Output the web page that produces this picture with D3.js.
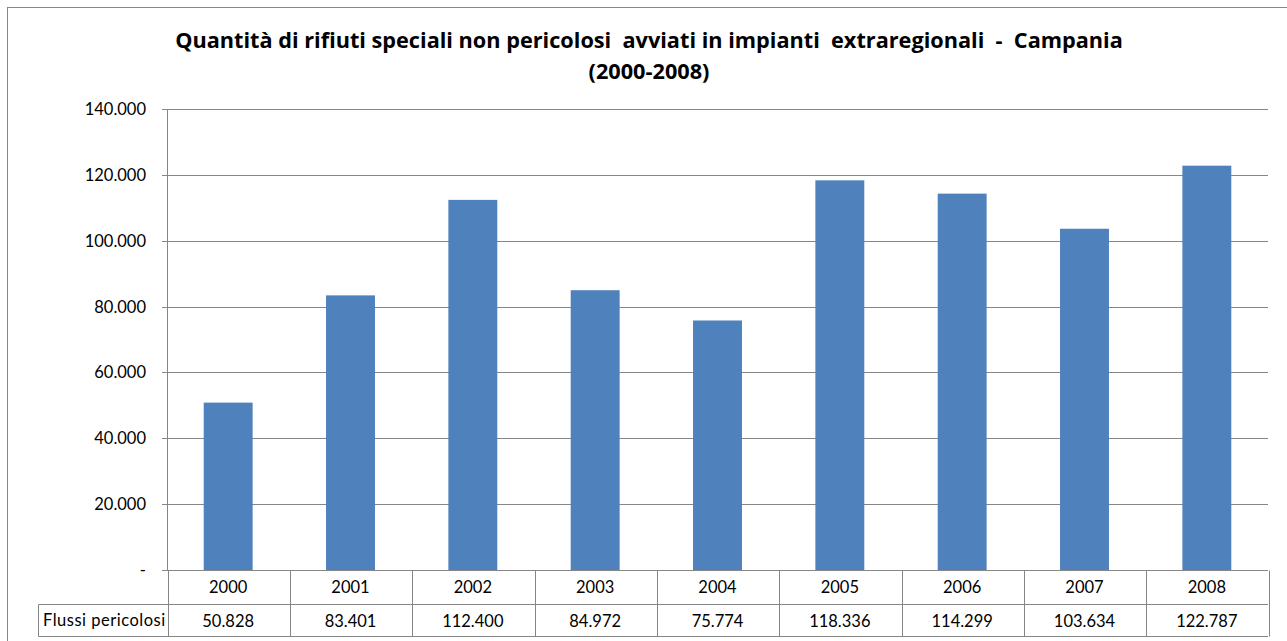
<!DOCTYPE html>
<html>
<head>
<meta charset="utf-8">
<script src="https://cdn.jsdelivr.net/npm/d3@7"></script>
<style>
  body { margin: 0; background: #fff; }
  text { font-family: Lato, "Open Sans", sans-serif; fill: #000; }
  .title { font-family: "Open Sans", Lato, sans-serif; }
</style>
</head>
<body>
<svg id="chart" width="1287" height="641"></svg>
<script>
const years = ["2000", "2001", "2002", "2003", "2004", "2005", "2006", "2007", "2008"];
const flussi = [50828, 83401, 112400, 84972, 75774, 118336, 114299, 103634, 122787];
const yTicks = [0, 20000, 40000, 60000, 80000, 100000, 120000, 140000];
const seriesName = "Flussi pericolosi";
const titleLines = ["Quantità di rifiuti speciali non pericolosi  avviati in impianti  extraregionali  -  Campania", "(2000-2008)"];

const svg = d3.select("#chart");
const margin = { left: 167, right: 19, top: 109, bottom: 71 };
const width = 1287, height = 641;
const labelSize = 16.5;

const fmt = function(v) {
  if (v === 0) return "-";
  return d3.format(",")(v).replace(/,/g, ".");
};

// chart area border
svg.append("rect")
  .attr("x", 7.5).attr("y", 7.5)
  .attr("width", width + 10).attr("height", height + 10)
  .attr("fill", "none")
  .attr("stroke", "#888")
  .attr("stroke-width", 1);

let xScale = d3.scaleBand()
  .domain(years)
  .range([margin.left, width - margin.right])
  .paddingInner(0.6)
  .paddingOuter(0.3);

let yScale = d3.scaleLinear()
  .domain([0, 140000])
  .range([height - margin.bottom, margin.top]);

// gridlines + y labels
let yAxis = svg.append("g");
yAxis.selectAll("line")
  .data(yTicks)
  .enter()
  .append("line")
  .attr("x1", margin.left - 5)
  .attr("x2", width - margin.right)
  .attr("y1", function(d) { return Math.round(yScale(d)) + 0.5; })
  .attr("y2", function(d) { return Math.round(yScale(d)) + 0.5; })
  .attr("stroke", "#868686")
  .attr("stroke-width", 1);

yAxis.selectAll("text")
  .data(yTicks)
  .enter()
  .append("text")
  .attr("x", 146)
  .attr("y", function(d) { return yScale(d) + 6; })
  .attr("text-anchor", "end")
  .attr("font-size", labelSize)
  .text(fmt);

// bars
svg.append("g")
  .selectAll("rect")
  .data(flussi)
  .enter()
  .append("rect")
  .attr("x", function(d, i) { return xScale(years[i]); })
  .attr("width", xScale.bandwidth())
  .attr("y", function(d) { return yScale(d); })
  .attr("height", function(d) { return yScale(0) - yScale(d); })
  .attr("fill", "#4F81BD");

// y axis line
svg.append("line")
  .attr("x1", margin.left + 0.5).attr("x2", margin.left + 0.5)
  .attr("y1", margin.top).attr("y2", yScale(0))
  .attr("stroke", "#868686");

// data table
const row1Top = Math.round(yScale(0)) + 0.5;
const row1Bot = 604.5;
const row2Bot = 636.5;
const step = xScale.step();
const colX = function(i) { return margin.left + 0.5 + i * step; };
let table = svg.append("g").attr("stroke", "#868686").attr("stroke-width", 1);

table.append("line").attr("x1", margin.left + 0.5).attr("x2", width - margin.right).attr("y1", row1Top).attr("y2", row1Top);
table.append("line").attr("x1", 38.5).attr("x2", width - margin.right).attr("y1", row1Bot).attr("y2", row1Bot);
table.append("line").attr("x1", 38.5).attr("x2", width - margin.right).attr("y1", row2Bot).attr("y2", row2Bot);
table.append("line").attr("x1", 38.5).attr("x2", 38.5).attr("y1", row1Bot).attr("y2", row2Bot);
table.selectAll("line.col")
  .data(d3.range(years.length + 1))
  .enter()
  .append("line")
  .attr("class", "col")
  .attr("x1", function(i) { return Math.round(colX(i)) + 0.5; })
  .attr("x2", function(i) { return Math.round(colX(i)) + 0.5; })
  .attr("y1", row1Top)
  .attr("y2", row2Bot);

svg.append("g")
  .selectAll("text")
  .data(years)
  .enter()
  .append("text")
  .attr("x", function(d) { return xScale(d) + xScale.bandwidth() / 2; })
  .attr("y", 593)
  .attr("text-anchor", "middle")
  .attr("font-size", labelSize)
  .text(function(d) { return d; });

svg.append("g")
  .selectAll("text")
  .data(flussi)
  .enter()
  .append("text")
  .attr("x", function(d, i) { return xScale(years[i]) + xScale.bandwidth() / 2; })
  .attr("y", 627)
  .attr("text-anchor", "middle")
  .attr("font-size", labelSize)
  .text(fmt);

svg.append("text")
  .attr("x", 43)
  .attr("y", 626)
  .attr("font-size", labelSize)
  .attr("letter-spacing", 0.5)
  .text(seriesName);

// title
let title = svg.append("g")
  .selectAll("text")
  .data(titleLines)
  .enter()
  .append("text")
  .attr("class", "title")
  .attr("x", 649)
  .attr("y", function(d, i) { return 48 + i * 31; })
  .attr("text-anchor", "middle")
  .attr("font-size", 20)
  .attr("font-weight", "bold")
  .attr("xml:space", "preserve")
  .style("white-space", "pre")
  .text(function(d) { return d; });

// fit the first title line to the reference width (~948px)
let len = title.nodes()[0].getComputedTextLength();
let fs = Math.max(17, Math.min(24, 20 * 948 / len));
title.attr("font-size", fs);
</script>
</body>
</html>
